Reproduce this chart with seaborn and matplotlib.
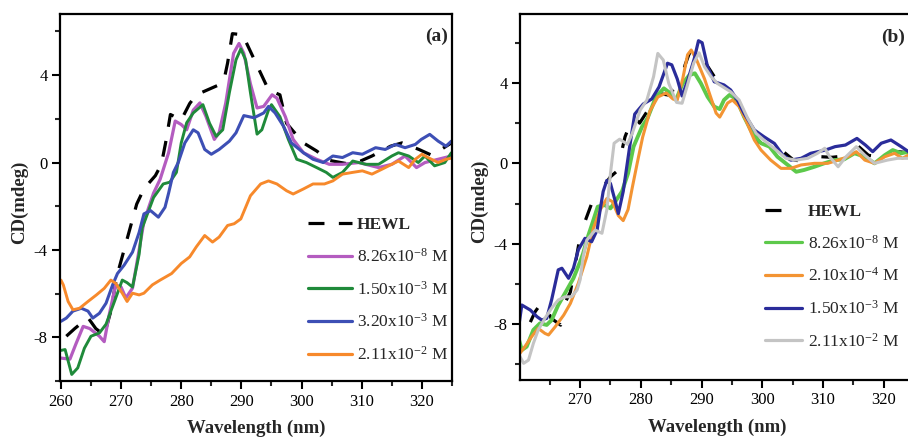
import numpy as np
import pandas as pd
import matplotlib
matplotlib.use("Agg")
import matplotlib.pyplot as plt
import seaborn as sns

# ---------------- data : panel (a) ----------------
a_hewl_x = [260.9, 262.3, 264.5, 265.8, 267.2, 268.3, 269.3, 271.5, 272.6, 273.8, 275.7, 276.7, 277.4,
            278.2, 280.0, 281.4, 282.5, 284.4, 286.3, 287.2, 287.7, 288.5, 290.2, 294.5, 296.4, 297.5,
            298.6, 300.3, 302.5, 304.6, 307.5, 309.8, 311.7, 314.8, 316.7, 319.5, 321.5, 323.2, 324.9]
a_hewl_y = [-7.95, -7.6, -7.1, -7.6, -7.9, -6.8, -5.2, -3.0, -1.9, -1.2, -0.6, -0.08, 0.9,
            2.2, 1.95, 2.7, 3.1, 3.33, 3.56, 3.9, 4.55, 5.9, 5.85, 3.33, 3.1, 1.8,
            1.44, 0.9, 0.53, 0.1, -0.05, 0.07, 0.3, 0.75, 0.9, 0.6, 0.35, 0.6, 0.9]

a_c1_x = [260.0, 261.5, 262.5, 263.7, 264.8, 266.4, 267.2, 268.0, 269.1, 270.0, 270.8, 271.9, 273.0,
          273.8, 275.4, 276.5, 277.9, 279.0, 280.0, 280.9, 282.0, 283.1, 284.1, 285.5, 286.3, 287.4,
          288.7, 289.6, 290.4, 291.5, 292.6, 293.7, 295.1, 295.9, 297.3, 298.6, 300.3, 302.5, 304.6,
          306.8, 309.5, 312.8, 315.0, 317.2, 319.1, 320.5, 322.7, 324.9]
a_c1_y = [-8.95, -9.0, -8.3, -7.5, -7.6, -7.95, -8.2, -7.0, -5.6, -5.7, -6.2, -5.75, -4.0,
          -2.7, -1.4, -0.76, 0.45, 1.9, 1.74, 1.5, 2.4, 2.73, 2.12, 1.06, 1.37, 2.73,
          5.0, 5.45, 5.0, 3.6, 2.5, 2.57, 3.1, 2.95, 2.1, 1.06, 0.45, 0.15, -0.08,
          -0.08, 0.0, -0.23, -0.08, 0.3, -0.23, 0.0, 0.15, 0.3]

a_c2_x = [260.0, 260.7, 261.8, 262.8, 263.9, 265.0, 266.4, 267.5, 268.9, 270.2, 271.0, 271.9, 273.0,
          273.5, 275.4, 277.0, 278.1, 279.2, 280.0, 280.9, 282.0, 283.6, 284.7, 285.8, 286.9, 288.0,
          289.1, 289.9, 290.7, 291.5, 292.6, 293.4, 294.5, 295.0, 296.4, 297.8, 299.2, 300.8, 302.5,
          304.1, 305.2, 306.8, 308.5, 310.7, 312.8, 315.0, 316.1, 317.8, 319.4, 320.5, 322.1, 323.8, 324.9]
a_c2_y = [-8.6, -8.56, -9.7, -9.4, -8.5, -7.95, -7.8, -7.4, -6.36, -5.38, -5.5, -5.7, -4.2,
          -3.0, -1.6, -0.98, -0.9, -0.45, 0.9, 1.82, 2.27, 2.65, 1.8, 1.2, 1.5, 3.2,
          4.7, 5.2, 4.7, 3.2, 1.3, 1.5, 2.4, 2.65, 2.1, 1.06, 0.15, 0.0, -0.23,
          -0.45, -0.68, -0.45, 0.07, -0.08, -0.08, 0.3, 0.45, 0.3, 0.0, 0.3, -0.15, 0.0, 0.45]

a_c3_x = [260.0, 260.9, 262.0, 263.4, 264.5, 265.3, 266.4, 267.5, 268.6, 269.4, 270.5, 271.9, 273.0,
          273.8, 274.9, 276.2, 277.3, 277.9, 278.7, 279.5, 280.6, 282.0, 282.8, 283.9, 285.0, 286.3,
          288.0, 289.1, 290.4, 292.1, 293.7, 294.5, 295.6, 297.0, 298.3, 300.3, 301.9, 303.6, 305.2,
          306.8, 308.5, 310.1, 312.3, 313.9, 315.6, 317.2, 318.9, 319.9, 321.3, 322.7, 324.0, 324.9]
a_c3_y = [-7.27, -7.12, -6.8, -6.67, -6.8, -7.12, -6.9, -6.44, -5.6, -5.08, -4.7, -4.1, -3.2,
          -2.35, -2.2, -2.5, -2.05, -1.4, -0.45, 0.0, 0.9, 1.5, 1.36, 0.6, 0.38, 0.6,
          0.98, 1.36, 2.15, 2.05, 2.27, 2.57, 2.27, 1.66, 0.9, 0.45, 0.15, 0.0, 0.3,
          0.23, 0.45, 0.38, 0.68, 0.6, 0.83, 0.68, 0.83, 1.06, 1.29, 0.98, 0.75, 0.98]

a_c4_x = [260.0, 260.4, 261.2, 262.0, 263.1, 264.5, 265.9, 267.2, 268.3, 269.1, 270.2, 271.0, 271.9,
          273.0, 273.8, 275.2, 276.5, 278.4, 280.0, 281.4, 282.5, 283.9, 285.2, 286.3, 287.7, 288.8,
          289.9, 291.5, 293.2, 294.5, 295.9, 297.5, 298.6, 300.3, 301.9, 303.8, 305.2, 306.8, 308.5,
          310.1, 311.7, 313.4, 315.0, 316.1, 317.8, 318.9, 320.0, 321.0, 322.7, 324.0, 324.9]
a_c4_y = [-5.38, -5.6, -6.36, -6.74, -6.67, -6.36, -6.06, -5.76, -5.38, -5.53, -5.98, -6.36, -5.98,
          -6.06, -5.98, -5.6, -5.38, -5.08, -4.62, -4.32, -3.86, -3.34, -3.64, -3.41, -2.88, -2.8,
          -2.58, -1.52, -0.98, -0.84, -0.98, -1.29, -1.44, -1.21, -0.98, -0.98, -0.84, -0.53, -0.45,
          -0.38, -0.53, -0.3, -0.08, 0.07, -0.23, 0.15, 0.38, 0.23, 0.0, 0.15, 0.2]

a_labels = ["HEWL", "8.26x10$^{-8}$ M", "1.50x10$^{-3}$ M", "3.20x10$^{-3}$ M", "2.11x10$^{-2}$ M"]

# ---------------- data : panel (b) ----------------
b_hewl_x = [261.8, 262.6, 263.5, 264.0, 265.2, 266.8, 267.5, 268.4, 270.1, 270.7, 271.9, 273.0, 275.0,
            276.3, 276.9, 277.4, 278.8, 279.8, 281.5, 282.5, 284.5, 286.5, 287.3, 287.9, 288.5, 290.0,
            293.0, 295.0, 296.7, 297.3, 299.4, 301.3, 302.8, 305.0, 307.5, 309.6, 311.5, 313.0, 314.8,
            315.6, 317.5, 319.5, 320.8, 322.4, 324.9]
b_hewl_y = [-7.9, -7.38, -7.0, -6.8, -7.7, -8.05, -6.95, -6.4, -3.47, -2.98, -2.0, -1.5, -0.67,
            -0.33, 0.66, 1.32, 2.4, 2.0, 2.8, 3.5, 3.4, 4.0, 4.9, 5.4, 5.75, 5.3,
            3.9, 3.4, 2.7, 2.35, 1.07, 0.83, 0.75, 0.2, 0.0, 0.33, 0.3, 0.35, 0.83,
            0.91, 0.4, 0.3, 0.33, 0.58, 0.5]

b_c1_x = [259.8, 260.4, 261.2, 262.3, 263.4, 264.5, 265.3, 266.4, 267.5, 268.9, 270.0, 270.5, 271.1,
          272.0, 272.9, 274.0, 275.0, 275.8, 276.9, 277.9, 278.8, 280.2, 281.1, 282.5, 283.8, 284.9,
          285.8, 286.9, 288.0, 288.9, 289.9, 291.0, 292.1, 293.0, 293.7, 294.6, 295.7, 297.0, 298.4,
          299.8, 301.2, 302.5, 304.2, 305.6, 306.9, 308.6, 310.2, 311.9, 313.5, 315.2, 316.9, 318.5,
          320.2, 321.5, 322.9, 324.1, 325.0]
b_c1_y = [-8.63, -9.29, -9.12, -8.29, -7.96, -8.04, -7.8, -7.05, -6.47, -5.72, -4.9, -4.48, -3.82,
          -3.0, -2.16, -2.07, -2.24, -1.9, -1.4, -0.5, 0.83, 1.82, 2.24, 3.31, 3.73, 3.48,
          3.15, 3.98, 4.39, 4.48, 3.98, 3.31, 2.82, 2.7, 3.15, 3.4, 3.23, 2.32, 1.49,
          1.0, 0.83, 0.33, -0.08, -0.42, -0.33, -0.17, 0.0, 0.16, 0.2, 0.5, 0.33, 0.0,
          0.41, 0.66, 0.5, 0.58, 0.5]

b_c2_x = [260.1, 260.9, 262.0, 263.1, 264.2, 264.8, 265.9, 267.3, 268.4, 269.7, 271.1, 272.2, 273.3,
          274.4, 275.3, 276.3, 277.1, 277.9, 278.6, 279.4, 280.3, 281.5, 282.8, 284.2, 285.3, 286.0,
          286.9, 287.7, 288.3, 289.2, 290.5, 291.5, 292.4, 293.0, 294.3, 295.1, 296.2, 297.3, 298.7,
          299.8, 301.4, 303.1, 304.7, 306.4, 308.6, 310.8, 312.5, 314.1, 315.5, 316.9, 318.5, 320.2,
          321.8, 323.1, 324.1, 325.0]
b_c2_y = [-9.45, -9.12, -8.63, -8.21, -8.46, -8.54, -8.13, -7.55, -6.97, -5.97, -4.65, -3.23, -2.32,
          -1.75, -1.9, -2.6, -2.85, -2.3, -1.2, 0.0, 1.3, 2.6, 3.3, 3.5, 3.2, 3.15,
          4.2, 5.4, 5.64, 5.14, 4.2, 3.3, 2.5, 2.3, 3.0, 3.15, 2.82, 2.15, 1.16,
          0.66, 0.16, -0.25, -0.25, -0.08, 0.0, 0.0, 0.16, 0.33, 0.58, 0.16, 0.0, 0.33,
          0.5, 0.25, 0.41, 0.35]

b_c3_x = [259.9, 260.4, 261.8, 262.9, 263.7, 264.5, 265.3, 266.4, 267.0, 268.1, 268.9, 269.7, 270.8,
          271.9, 272.8, 273.3, 273.8, 274.4, 275.0, 275.8, 276.3, 277.1, 278.2, 279.0, 280.4, 281.8,
          283.0, 284.4, 285.1, 286.0, 286.8, 287.8, 288.8, 289.5, 290.1, 291.0, 292.1, 293.7, 294.8,
          295.9, 297.0, 298.7, 300.3, 302.0, 303.4, 304.7, 306.4, 308.0, 310.4, 312.0, 313.7, 315.6,
          317.0, 318.2, 319.6, 321.2, 322.9, 324.1, 325.0]
b_c3_y = [-8.1, -7.05, -7.3, -7.63, -7.8, -7.71, -6.8, -5.3, -5.22, -5.72, -5.22, -4.31, -3.73,
          -3.9, -3.32, -2.32, -1.4, -0.85, -1.0, -1.9, -2.5, -1.4, 0.9, 2.45, 2.95, 3.2,
          3.8, 4.98, 4.9, 4.2, 3.35, 4.2, 5.2, 6.1, 6.0, 4.8, 4.06, 3.9, 3.65,
          3.15, 2.49, 1.66, 1.32, 0.99, 0.41, 0.16, 0.25, 0.5, 0.66, 0.83, 0.91, 1.24,
          0.91, 0.58, 1.0, 1.16, 0.83, 0.58, 0.5]

b_c4_x = [259.8, 260.7, 261.5, 262.3, 263.1, 264.2, 265.3, 266.4, 267.5, 268.6, 269.5, 270.0, 270.5,
          271.1, 272.5, 273.6, 274.4, 275.0, 275.6, 276.5, 277.8, 278.6, 279.9, 281.0, 282.1, 282.8,
          283.7, 284.6, 285.9, 286.8, 287.6, 288.7, 289.6, 290.5, 291.6, 292.6, 294.8, 296.2, 297.6,
          299.0, 300.6, 302.3, 303.9, 305.6, 307.5, 309.1, 310.3, 311.1, 312.5, 313.8, 315.5, 316.9,
          318.5, 320.6, 322.3, 324.1, 325.0]
b_c4_y = [-9.45, -9.95, -9.79, -8.96, -8.29, -7.71, -7.21, -6.8, -6.64, -6.64, -6.3, -5.8, -4.65,
          -3.82, -3.32, -3.48, -2.32, -0.5, 1.0, 1.2, 0.95, 1.5, 2.65, 3.15, 4.31, 5.47,
          5.14, 3.98, 3.03, 2.99, 3.81, 4.98, 5.5, 4.8, 4.3, 3.98, 3.56, 3.15, 2.24,
          1.49, 1.07, 0.66, 0.25, 0.16, 0.25, 0.5, 0.75, 0.33, -0.17, 0.33, 0.83, 0.41,
          0.0, 0.16, 0.25, 0.25, 0.25]

b_labels = ["HEWL", "8.26x10$^{-8}$ M", "2.10x10$^{-4}$ M", "1.50x10$^{-3}$ M", "2.11x10$^{-2}$ M"]

a_x_ticks = [260, 270, 280, 290, 300, 310, 320]
b_x_ticks = [270, 280, 290, 300, 310, 320]
y_ticks = [-8, -4, 0, 4]

# ---------------- style ----------------
sns.set_theme(style="ticks")
plt.rcParams["font.family"] = ["Liberation Serif", "DejaVu Serif"]
plt.rcParams["mathtext.fontset"] = "custom"
plt.rcParams["mathtext.rm"] = "Liberation Serif"
plt.rcParams["mathtext.it"] = "Liberation Serif:italic"
plt.rcParams["mathtext.bf"] = "Liberation Serif:bold"
plt.rcParams["axes.unicode_minus"] = False

fig = plt.figure(figsize=(9.08, 4.38), dpi=100)
axA = fig.add_axes([60 / 908, 57 / 438, 392 / 908, 367 / 438])
axB = fig.add_axes([520 / 908, 58 / 438, 394 / 908, 366 / 438])


def draw(ax, x, y, color, lw, label, ls="-"):
    df = pd.DataFrame({"x": x, "y": y})
    sns.lineplot(data=df, x="x", y="y", ax=ax, color=color, lw=lw, label=label,
                 estimator=None, sort=False, linestyle=ls, solid_capstyle="round")


# panel a
draw(axA, a_hewl_x, a_hewl_y, "black", 2.3, a_labels[0], ls=(0, (5, 4.5)))
draw(axA, a_c1_x, a_c1_y, "#b45cc0", 2.3, a_labels[1])
draw(axA, a_c2_x, a_c2_y, "#1f8a3a", 2.1, a_labels[2])
draw(axA, a_c3_x, a_c3_y, "#3d4fb5", 2.2, a_labels[3])
draw(axA, a_c4_x, a_c4_y, "#f7892b", 2.1, a_labels[4])

# panel b
draw(axB, b_hewl_x, b_hewl_y, "black", 2.3, b_labels[0], ls=(0, (5, 8)))
draw(axB, b_c1_x, b_c1_y, "#5dc94b", 2.8, b_labels[1])
draw(axB, b_c2_x, b_c2_y, "#f39433", 2.2, b_labels[2])
draw(axB, b_c3_x, b_c3_y, "#2a2c9a", 2.3, b_labels[3])
draw(axB, b_c4_x, b_c4_y, "#c4c4c4", 2.2, b_labels[4])

axA.set_xlim(259.85, 324.1)
axA.set_ylim(-9.9, 6.8)
axB.set_xlim(260.1, 325.0)
axB.set_ylim(-10.78, 7.43)

for ax, tag, xt, tx, ty, lx, ly in [(axA, "(a)", a_x_ticks, 0.961, 0.938, 0.633, 0.447),
                                    (axB, "(b)", b_x_ticks, 0.947, 0.937, 0.622, 0.482)]:
    ax.set_xticks(xt)
    ax.set_xticks([t + 5 for t in a_x_ticks], minor=True)
    ax.set_yticks(y_ticks)
    ax.set_yticks([-10, -6, -2, 2, 6], minor=True)
    ax.tick_params(which="major", direction="out", length=6, width=1.5, labelsize=12, pad=3,
                   colors="black")
    ax.tick_params(which="minor", direction="out", length=3.5, width=1.5)
    for s in ax.spines.values():
        s.set_linewidth(1.6)
        s.set_color("black")
    ax.set_xlabel("Wavelength (nm)", fontsize=13.5, fontweight="bold")
    ax.set_ylabel("CD(mdeg)", fontsize=13.5, fontweight="bold")
    ax.yaxis.set_label_coords(-0.082, 0.488)
    ax.xaxis.set_label_coords(0.5, -0.105)
    ax.text(tx, ty, tag, transform=ax.transAxes, ha="center", va="center",
            fontsize=14, fontweight="bold")
    leg = ax.legend(loc="upper left", bbox_to_anchor=(lx, ly), frameon=False, fontsize=12.5,
                    handlelength=2.5 if tag == "(a)" else 2.15, handletextpad=0.3,
                    labelspacing=0.85, borderpad=0, borderaxespad=0)
    leg.get_texts()[0].set_fontweight("bold")
    for ln in leg.get_lines():
        ln.set_linewidth(2.3)

fig.savefig("out.png", dpi=100)
